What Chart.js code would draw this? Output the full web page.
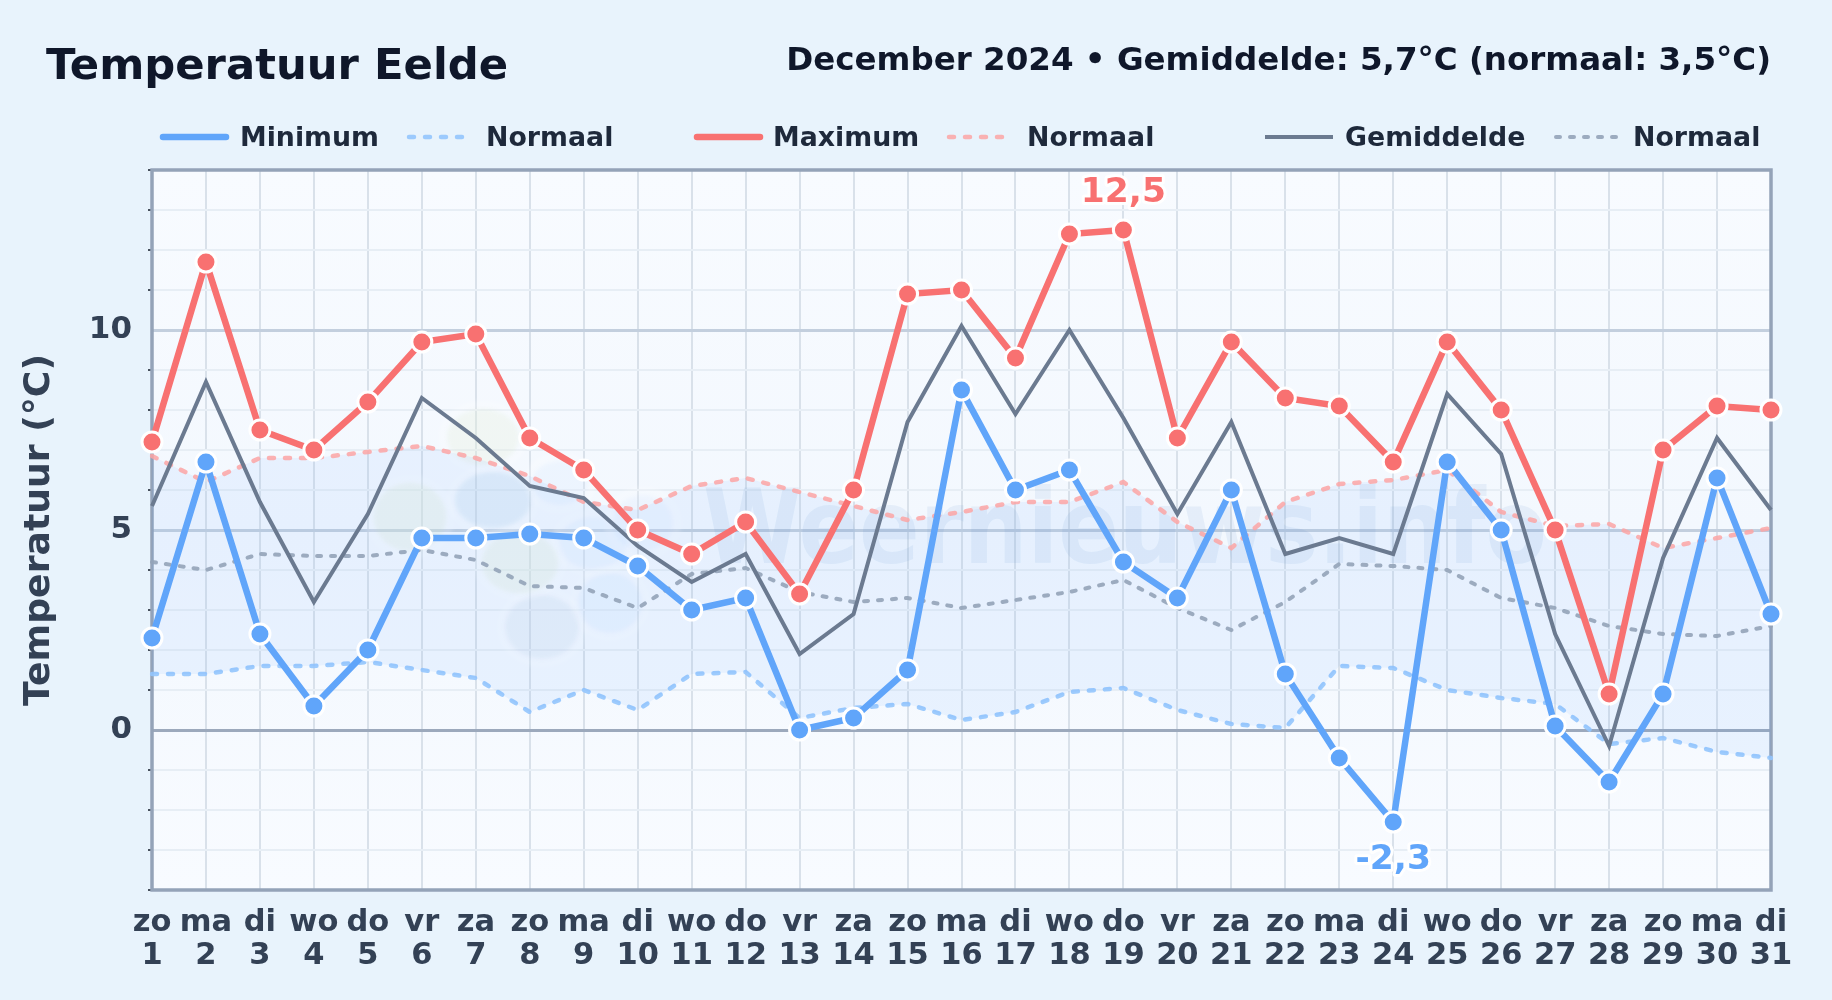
<!DOCTYPE html>
<html>
<head>
<meta charset="utf-8">
<title>Temperatuur Eelde</title>
<script src="https://cdn.jsdelivr.net/npm/chart.js@4"></script>
<style>
    html, body { margin: 0; padding: 0; background: #e8f3fc; }
    canvas { display: block; }
</style>
</head>
<body>
<canvas id="tempChart" width="1832" height="1000"></canvas>
<script>
// Chart data, December 2024
const weekdays = ['zo','ma','di','wo','do','vr','za','zo','ma','di','wo','do','vr','za','zo','ma','di','wo','do','vr','za','zo','ma','di','wo','do','vr','za','zo','ma','di'];
const days = [1,2,3,4,5,6,7,8,9,10,11,12,13,14,15,16,17,18,19,20,21,22,23,24,25,26,27,28,29,30,31];
const minimum = [2.3,6.7,2.4,0.6,2.0,4.8,4.8,4.9,4.8,4.1,3.0,3.3,0.0,0.3,1.5,8.5,6.0,6.5,4.2,3.3,6.0,1.4,-0.7,-2.3,6.7,5.0,0.1,-1.3,0.9,6.3,2.9];
const maximum = [7.2,11.7,7.5,7.0,8.2,9.7,9.9,7.3,6.5,5.0,4.4,5.2,3.4,6.0,10.9,11.0,9.3,12.4,12.5,7.3,9.7,8.3,8.1,6.7,9.7,8.0,5.0,0.9,7.0,8.1,8.0];
const average = [5.6,8.7,5.7,3.2,5.4,8.3,7.3,6.1,5.8,4.6,3.7,4.4,1.9,2.9,7.7,10.1,7.9,10.0,7.8,5.4,7.7,4.4,4.8,4.4,8.4,6.9,2.4,-0.4,4.3,7.3,5.5];
const normalMin = [1.4,1.4,1.6,1.6,1.7,1.5,1.3,0.45,1.0,0.5,1.4,1.45,0.3,0.55,0.65,0.25,0.45,0.95,1.05,0.5,0.15,0.05,1.6,1.55,1.0,0.8,0.65,-0.35,-0.2,-0.55,-0.7];
const normalMax = [6.85,6.2,6.8,6.8,6.95,7.1,6.8,6.35,5.7,5.5,6.1,6.3,5.95,5.6,5.25,5.45,5.7,5.7,6.2,5.2,4.55,5.7,6.15,6.25,6.5,5.45,5.1,5.15,4.55,4.8,5.05];
const normalAvg = [4.2,4.0,4.4,4.35,4.35,4.5,4.25,3.6,3.55,3.05,3.9,4.05,3.45,3.2,3.3,3.05,3.25,3.45,3.75,3.05,2.5,3.2,4.15,4.1,4.0,3.3,3.05,2.6,2.4,2.35,2.6];
const labeledTicks = [0, 5, 10];

const FONT = '"DejaVu Sans", sans-serif';
const BLUE = '#60a5fa', RED = '#f87171', SLATE = '#6b7a90';
const BLUE_SOFT = 'rgba(147,197,253,0.9)', RED_SOFT = 'rgba(252,165,165,0.85)', SLATE_SOFT = 'rgba(148,163,184,0.9)';

// Plot background, logo and watermark sit under the lines
const backdropPlugin = {
    id: 'backdrop',
    beforeDatasetsDraw(chart) {
        const { ctx, chartArea: a } = chart;
        ctx.save();
        ctx.beginPath();
        ctx.rect(a.left, a.top, a.width, a.height);
        ctx.clip();

        // logo blobs: [x, y, rx, ry, colour]
        const blobs = [
            [483, 437, 36, 28, 'rgba(200,225,170,0.13)'],
            [410, 517, 36, 34, 'rgba(200,225,170,0.14)'],
            [520, 563, 38, 30, 'rgba(200,225,170,0.14)'],
            [560, 483, 28, 22, 'rgba(96,165,250,0.06)'],
            [593, 543, 34, 26, 'rgba(96,165,250,0.06)'],
            [610, 603, 32, 30, 'rgba(96,165,250,0.07)'],
            [643, 523, 30, 28, 'rgba(96,165,250,0.05)'],
            [493, 500, 38, 28, 'rgba(59,130,200,0.09)'],
            [542, 627, 37, 32, 'rgba(59,110,170,0.06)']
        ];
        ctx.filter = 'blur(2px)';
        blobs.forEach(b => {
            ctx.fillStyle = 'rgba(255,255,255,0.22)';
            ctx.beginPath();
            ctx.ellipse(b[0], b[1], b[2] + 9, b[3] + 9, 0, 0, Math.PI * 2);
            ctx.fill();
        });
        blobs.forEach(b => {
            ctx.fillStyle = b[4];
            ctx.beginPath();
            ctx.ellipse(b[0], b[1], b[2], b[3], 0, 0, Math.PI * 2);
            ctx.fill();
        });
        ctx.filter = 'none';

        const mark = 'Weernieuws.info';
        ctx.fillStyle = 'rgba(70,130,200,0.085)';
        ctx.font = 'bold 104px ' + FONT;
        ctx.textAlign = 'left';
        ctx.textBaseline = 'alphabetic';
        ctx.translate(703, 563);
        ctx.scale(844 / ctx.measureText(mark).width, 1);
        ctx.fillText(mark, 0, 0);
        ctx.restore();

        // frame round the plot
        ctx.save();
        ctx.strokeStyle = '#94a3b8';
        ctx.lineWidth = 3.5;
        ctx.strokeRect(a.left, a.top, a.width, a.height);
        ctx.restore();
    }
};

// Title, subtitle, legend row and the two extreme labels
const textPlugin = {
    id: 'texts',
    afterDraw(chart) {
        const { ctx, scales } = chart;
        ctx.save();
        ctx.textBaseline = 'alphabetic';

        ctx.fillStyle = '#0f172a';
        ctx.font = 'bold 43.3px ' + FONT;
        ctx.textAlign = 'left';
        ctx.fillText('Temperatuur Eelde', 46, 79);
        ctx.font = 'bold 32.5px ' + FONT;
        ctx.textAlign = 'right';
        ctx.fillText('December 2024 • Gemiddelde: 5,7°C (normaal: 3,5°C)', 1771, 70);

        const legend = [
            { text: 'Minimum', x0: 163, x1: 226, tx: 240, color: BLUE, w: 6.5 },
            { text: 'Normaal', x0: 409, x1: 465, tx: 486, color: BLUE_SOFT, w: 4.5, dash: [5, 11] },
            { text: 'Maximum', x0: 697, x1: 760, tx: 773, color: RED, w: 6.5 },
            { text: 'Normaal', x0: 949, x1: 1006, tx: 1027, color: RED_SOFT, w: 4.5, dash: [5, 11] },
            { text: 'Gemiddelde', x0: 1265, x1: 1333, tx: 1345, color: SLATE, w: 4, butt: true },
            { text: 'Normaal', x0: 1556, x1: 1619, tx: 1633, color: SLATE_SOFT, w: 4, dash: [4, 10] }
        ];
        ctx.font = 'bold 26.8px ' + FONT;
        ctx.textAlign = 'left';
        legend.forEach(item => {
            ctx.strokeStyle = item.color;
            ctx.lineWidth = item.w;
            ctx.lineCap = item.butt ? 'butt' : 'round';
            ctx.setLineDash(item.dash || []);
            ctx.beginPath();
            ctx.moveTo(item.x0, 137);
            ctx.lineTo(item.x1, 137);
            ctx.stroke();
            ctx.fillStyle = '#1e293b';
            ctx.fillText(item.text, item.tx, 146);
        });
        ctx.setLineDash([]);

        // highest maximum and lowest minimum, read from the data
        const hi = maximum.indexOf(Math.max(...maximum));
        const lo = minimum.indexOf(Math.min(...minimum));
        ctx.font = 'bold 34.5px ' + FONT;
        ctx.textAlign = 'center';
        ctx.lineJoin = 'round';
        ctx.lineWidth = 6;
        ctx.strokeStyle = 'rgba(255,255,255,0.95)';
        const marks = [
            { text: String(maximum[hi]).replace('.', ','), i: hi, v: maximum[hi], dy: -28, color: RED },
            { text: String(minimum[lo]).replace('.', ','), i: lo, v: minimum[lo], dy: 47, color: BLUE }
        ];
        marks.forEach(m => {
            const x = scales.x.getPixelForValue(m.i);
            const y = scales.y.getPixelForValue(m.v) + m.dy;
            ctx.strokeText(m.text, x, y);
            ctx.fillStyle = m.color;
            ctx.fillText(m.text, x, y);
        });
        ctx.restore();
    }
};

const plotBackground = {
    id: 'plotBackground',
    beforeDraw(chart) {
        const { ctx, chartArea: a } = chart;
        const g = ctx.createLinearGradient(0, a.top, 0, a.bottom);
        g.addColorStop(0, '#f8fbff');
        g.addColorStop(0.5, '#f3f8fe');
        g.addColorStop(1, '#f8fbff');
        ctx.save();
        ctx.fillStyle = g;
        ctx.fillRect(a.left, a.top, a.width, a.height);
        ctx.restore();
    }
};

const ctx = document.getElementById('tempChart').getContext('2d');
new Chart(ctx, {
    type: 'line',
    data: {
        labels: weekdays.map((d, i) => [d, String(days[i])]),
        datasets: [{
            label: 'Minimum',
            data: minimum,
            borderColor: BLUE,
            backgroundColor: BLUE,
            borderWidth: 6.5,
            pointRadius: 10,
            pointBorderColor: '#ffffff',
            pointBorderWidth: 3,
            tension: 0,
            clip: false,
            order: 2
        }, {
            label: 'Normaal',
            data: normalMin,
            borderColor: BLUE_SOFT,
            borderWidth: 4.5,
            borderDash: [5, 11],
            borderCapStyle: 'round',
            pointRadius: 0,
            order: 6
        }, {
            label: 'Maximum',
            data: maximum,
            borderColor: RED,
            backgroundColor: RED,
            borderWidth: 6.5,
            pointRadius: 10,
            pointBorderColor: '#ffffff',
            pointBorderWidth: 3,
            tension: 0,
            clip: false,
            order: 1
        }, {
            label: 'Normaal',
            data: normalMax,
            borderColor: RED_SOFT,
            backgroundColor: 'rgba(96,165,250,0.085)',
            borderWidth: 4.5,
            borderDash: [5, 11],
            borderCapStyle: 'round',
            pointRadius: 0,
            fill: { target: 1 },
            order: 5
        }, {
            label: 'Gemiddelde',
            data: average,
            borderColor: SLATE,
            borderWidth: 4,
            pointRadius: 0,
            order: 3
        }, {
            label: 'Normaal',
            data: normalAvg,
            borderColor: SLATE_SOFT,
            borderWidth: 4,
            borderDash: [4, 10],
            borderCapStyle: 'round',
            pointRadius: 0,
            order: 4
        }]
    },
    options: {
        responsive: false,
        animation: false,
        layout: { padding: { top: 170, right: 61, left: 0, bottom: 0 } },
        plugins: {
            legend: { display: false },
            tooltip: { enabled: false }
        },
        scales: {
            x: {
                type: 'category',
                offset: false,
                afterFit: scale => { scale.height = 110; },
                border: { display: false },
                grid: { color: '#d9e1ea', lineWidth: 2, drawTicks: false },
                ticks: {
                    autoSkip: false,
                    maxRotation: 0,
                    padding: 17,
                    color: '#334155',
                    font: { family: FONT, weight: 'bold', size: 30.5, lineHeight: 1.08 }
                }
            },
            y: {
                min: -4,
                max: 14,
                afterFit: scale => { scale.width = 152; },
                border: { display: false },
                grid: {
                    color: c => c.tick.value === 0 ? '#9ca9bc' : labeledTicks.includes(c.tick.value) ? '#c3cfde' : '#e7eef5',
                    lineWidth: c => labeledTicks.includes(c.tick.value) ? 3 : 2,
                    tickColor: c => labeledTicks.includes(c.tick.value) ? 'rgba(0,0,0,0)' : '#111827',
                    tickLength: 4,
                    tickWidth: 1.5
                },
                ticks: {
                    stepSize: 1,
                    autoSkip: false,
                    padding: 16,
                    color: '#334155',
                    font: { family: FONT, weight: 'bold', size: 31 },
                    callback: value => labeledTicks.includes(value) ? String(value) : ''
                },
                title: {
                    display: true,
                    text: 'Temperatuur (°C)',
                    color: '#334155',
                    padding: { top: 18, bottom: 0 },
                    font: { family: FONT, weight: 'bold', size: 36.2 }
                }
            }
        }
    },
    plugins: [plotBackground, backdropPlugin, textPlugin]
});
</script>
</body>
</html>
